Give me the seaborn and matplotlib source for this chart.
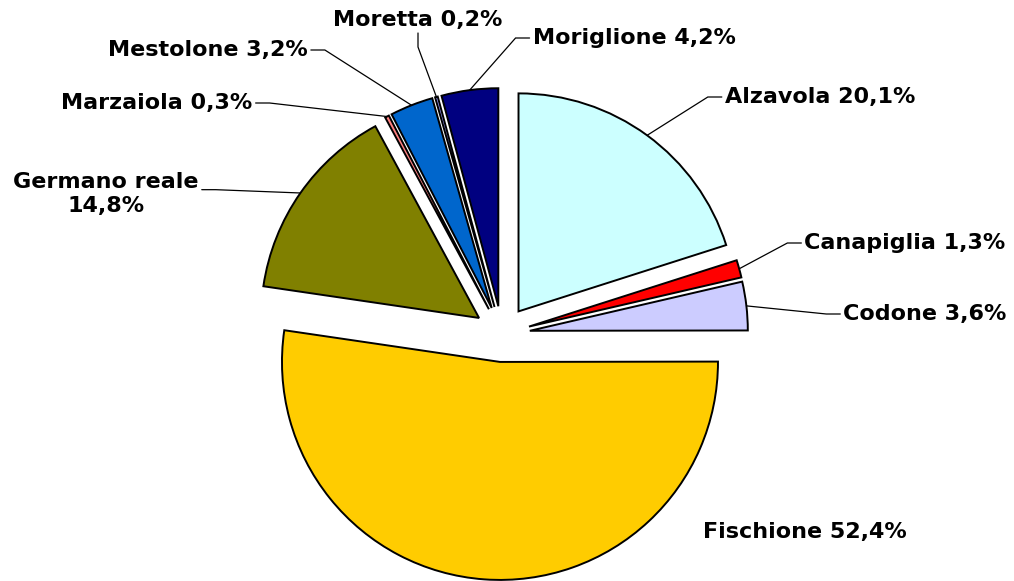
import numpy as np
import matplotlib
matplotlib.use("Agg")
import matplotlib.pyplot as plt
import seaborn as sns

# ---------------------------------------------------
# DATA
# ---------------------------------------------------

species = ["Alzavola", "Canapiglia", "Codone", "Fischione", "Germano reale",
           "Marzaiola", "Mestolone", "Moretta", "Moriglione"]
shares = [20.1, 1.3, 3.6, 52.4, 14.8, 0.3, 3.2, 0.2, 4.2]
colors = ["#CCFFFF", "#FF0000", "#CCCCFF", "#FFCC00", "#808000",
          "#FF8080", "#0066CC", "#9999FF", "#000080"]
label_texts = ["Alzavola 20,1%", "Canapiglia 1,3%", "Codone 3,6%",
               "Fischione 52,4%", "Germano reale\n14,8%", "Marzaiola 0,3%",
               "Mestolone 3,2%", "Moretta 0,2%", "Moriglione 4,2%"]

# label placement (layout, in pixel coordinates of the figure, y from top)
label_pos = [(820, 97), (905, 243), (925, 314), (805, 532), (106, 194),
             (157, 103), (208, 50), (418, 20), (634, 38)]
# direction of the short arm of each leader line, leaving the label (None = no leader)
arm_dir = [180, 180, 180, None, 0, 0, 0, -90, 180]
# point of the label box where the leader starts
rel_pos = [(0, 0.5), (0, 0.5), (0, 0.5), None, (1, 0.6),
           (1, 0.5), (1, 0.5), (0.5, 0), (0, 0.5)]

# ---------------------------------------------------
# PLOT
# ---------------------------------------------------

W, H = 1014, 581
sns.set_theme(style="white")
plt.rcParams["font.family"] = ["DejaVu Sans"]

fig = plt.figure(figsize=(W / 100, H / 100), dpi=100)
ax = fig.add_axes([0, 0, 1, 1])

cx, cy, r = 502, H - 334, 218
wedges, _ = ax.pie(
    shares,
    colors=colors,
    startangle=90,
    counterclock=False,
    radius=r,
    center=(cx, cy),
    explode=[28] * len(shares),   # pie offsets are in data units here
    wedgeprops=dict(edgecolor="black", linewidth=1.4),
    frame=True,
)
ax.set_xlim(0, W)
ax.set_ylim(0, H)
ax.set_aspect("equal")
ax.axis("off")

texts = []
for txt, (lx, ly) in zip(label_texts, label_pos):
    t = ax.text(lx, H - ly, txt, ha="center", va="center", color="black",
                fontsize=16, fontweight="bold")
    texts.append(t)

fig.canvas.draw()
renderer = fig.canvas.get_renderer()
inv = ax.transData.inverted()

# leader lines: short arm out of the label, then straight to the wedge rim
for w, t, arm, rp in zip(wedges, texts, arm_dir, rel_pos):
    if arm is None:
        continue
    ang = np.deg2rad((w.theta1 + w.theta2) / 2)
    wx, wy = w.center
    ex = wx + w.r * np.cos(ang)
    ey = wy + w.r * np.sin(ang)

    bb = t.get_window_extent(renderer)
    (x0, y0), (x1, y1) = inv.transform([[bb.x0, bb.y0], [bb.x1, bb.y1]])
    sx = x0 + rp[0] * (x1 - x0)
    sy = y0 + rp[1] * (y1 - y0)
    d = np.deg2rad(arm)
    sx += 3 * np.cos(d)
    sy += 3 * np.sin(d)
    ax_ = sx + 14 * np.cos(d)
    ay_ = sy + 14 * np.sin(d)
    ax.plot([sx, ax_, ex], [sy, ay_, ey], color="black", lw=0.9,
            solid_joinstyle="miter")

fig.savefig("out.png", dpi=100, facecolor="white")
